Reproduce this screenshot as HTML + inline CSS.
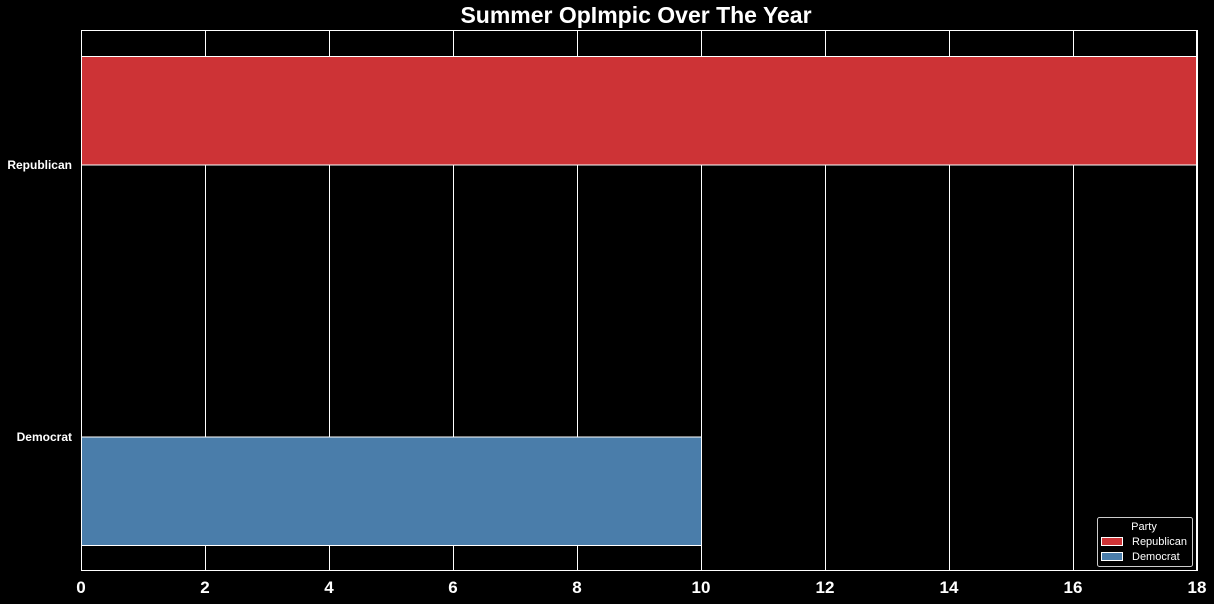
<!DOCTYPE html>
<html><head><meta charset="utf-8"><style>
body{margin:0;background:#000;}
svg{display:block;font-family:"Liberation Sans",sans-serif;}
</style></head><body>
<svg id="chart" width="1214" height="604" xmlns="http://www.w3.org/2000/svg">
<rect width="1214" height="604" fill="#000"/>
<text x="636" y="23" text-anchor="middle" fill="#fff" font-size="23" font-weight="bold">Summer OpImpic Over The Year</text>
<g id="grid"></g><g id="bars"></g><g id="axes"></g>
<g>
<rect x="1097.5" y="517.5" width="95" height="49" rx="2" fill="#000" stroke="#ccc" stroke-width="1"/>
<text x="1144" y="530" text-anchor="middle" fill="#fff" font-size="11">Party</text>
<rect x="1101.5" y="537.5" width="21" height="8" fill="#cd3336" stroke="#fff"/>
<text x="1132" y="545" fill="#fff" font-size="11">Republican</text>
<rect x="1101.5" y="552.5" width="21" height="8" fill="#4a7daa" stroke="#fff"/>
<text x="1132" y="560" fill="#fff" font-size="11">Democrat</text>
</g>
</svg>
<script>
const categories = ["Republican","Democrat"];
const values = [18,10];
const colors = ["#cd3336","#4a7daa"];
const xTicks = [0,2,4,6,8,10,12,14,16,18];
const NS="http://www.w3.org/2000/svg";
const L=81,R=1197,T=30,B=571;
const xs=v=>L+(v-0)/(18-0)*(R-L);
const ys=i=>165+i*272;
const bw=108.5;
function mk(tag,attrs,parent){const e=document.createElementNS(NS,tag);for(const k in attrs)e.setAttribute(k,attrs[k]);document.getElementById(parent).appendChild(e);return e;}
xTicks.forEach(t=>{
 const gx=Math.round(xs(t))+0.5;
 const l=mk('line',{x1:gx,x2:gx,y1:T,y2:B,stroke:'#fff','stroke-width':1},'grid');
 
 
 const tx=mk('text',{x:xs(t),y:B+22,'text-anchor':'middle',fill:'#fff','font-size':17,'font-weight':'bold'},'axes');
 tx.textContent=t;
 
 
});
categories.forEach((c,i)=>{
 const y0=i===0?ys(i)-bw:ys(i);
 const r=mk('rect',{x:xs(0)+0.5,y:y0,width:xs(values[i])-xs(0),height:bw,fill:colors[i],stroke:'#fff','stroke-width':1},'bars');
 
 
 const tx=mk('text',{x:72,y:ys(i)+4,'text-anchor':'end',fill:'#fff','font-size':12,'font-weight':'bold'},'axes');
 tx.textContent=c;
 
 
});
const f=mk('rect',{x:L+0.5,y:T+0.5,width:R-L-1,height:B-T-1,fill:'none',stroke:'#fff','stroke-width':1},'axes');


</script>
</body></html>
